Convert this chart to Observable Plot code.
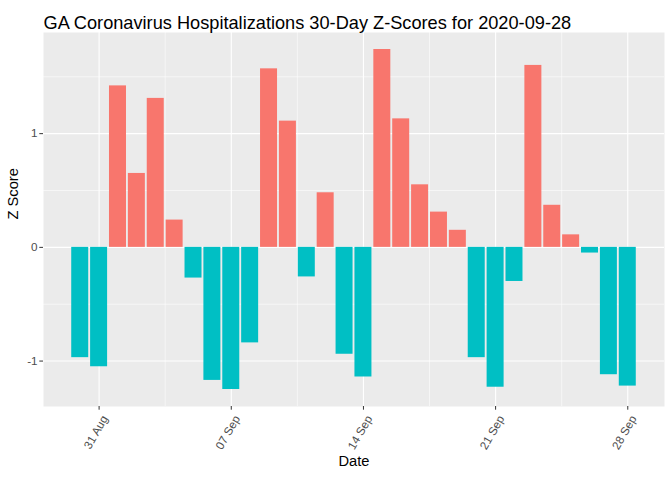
<!DOCTYPE html>
<html>
<head>
<meta charset="utf-8">
<script src="https://cdn.jsdelivr.net/npm/d3@7"></script>
<script src="https://cdn.jsdelivr.net/npm/@observablehq/plot@0.6"></script>
<style>
  html, body { margin: 0; padding: 0; background: #fff; }
  #chart svg { display: block; }
</style>
</head>
<body>
<div id="chart"></div>
<script>
const dates = [
  "2020-08-30","2020-08-31","2020-09-01","2020-09-02","2020-09-03","2020-09-04",
  "2020-09-05","2020-09-06","2020-09-07","2020-09-08","2020-09-09","2020-09-10",
  "2020-09-11","2020-09-12","2020-09-13","2020-09-14","2020-09-15","2020-09-16",
  "2020-09-17","2020-09-18","2020-09-19","2020-09-20","2020-09-21","2020-09-22",
  "2020-09-23","2020-09-24","2020-09-25","2020-09-26","2020-09-27","2020-09-28"
];
const zScores = [
  -0.97, -1.05, 1.42, 0.65, 1.31, 0.24,
  -0.27, -1.17, -1.25, -0.84, 1.57, 1.11,
  -0.26, 0.48, -0.94, -1.14, 1.74, 1.13,
  0.55, 0.31, 0.15, -0.97, -1.23, -0.30,
  1.60, 0.37, 0.11, -0.05, -1.12, -1.22
];
const xTickDates = ["2020-08-31","2020-09-07","2020-09-14","2020-09-21","2020-09-28"];
const yMajor = [-1, 0, 1];
const yMinor = [-0.5, 0.5, 1.5];
const titleText = "GA Coronavirus Hospitalizations 30-Day Z-Scores for 2020-09-28";
const xLabel = "Date";
const yLabel = "Z Score";

const DAY = 864e5;
const parse = s => new Date(s + "T00:00:00Z");
const data = dates.map((d, i) => ({date: parse(d), z: zScores[i], pos: zScores[i] > 0}));
const xTicks = xTickDates.map(parse);
const xMinor = xTicks.slice(0, -1).map(d => new Date(+d + 3.5 * DAY));

// ggplot-style expansion
const xMin = +data[0].date - 0.45 * DAY, xMax = +data[data.length - 1].date + 0.45 * DAY;
const xPad = (xMax - xMin) * 0.05;
const yMin = d3.min(zScores), yMax = d3.max(zScores);
const yPad = (yMax - yMin) * 0.05;

const font = "'Liberation Sans', Arial, sans-serif";

const chart = Plot.plot({
  width: 672,
  height: 480,
  marginLeft: 43,
  marginRight: 8,
  marginTop: 32,
  marginBottom: 74,
  style: {fontFamily: font, background: "#fff"},
  x: {type: "utc", domain: [new Date(xMin - xPad), new Date(xMax + xPad)]},
  y: {domain: [yMin - yPad, yMax + yPad]},
  color: {domain: [true, false], range: ["#F8766D", "#00BFC4"]},
  marks: [
    Plot.frame({fill: "#EBEBEB", stroke: null}),
    Plot.ruleY(yMinor, {stroke: "#fff", strokeWidth: 0.55}),
    Plot.ruleX(xMinor, {stroke: "#fff", strokeWidth: 0.55}),
    Plot.ruleY(yMajor, {stroke: "#fff", strokeWidth: 1.1}),
    Plot.ruleX(xTicks, {stroke: "#fff", strokeWidth: 1.1}),
    Plot.rect(data, {
      x1: d => new Date(+d.date - 0.45 * DAY),
      x2: d => new Date(+d.date + 0.45 * DAY),
      y1: 0,
      y2: "z",
      fill: "pos"
    }),
    Plot.axisY({
      ticks: yMajor, tickFormat: d => d < 0 ? "-" + Math.abs(d) : String(d),
      tickSize: 3.7, tickPadding: 2.2, label: null,
      fontSize: 11.7, color: "#4D4D4D", stroke: "#333333"
    }),
    Plot.axisX({
      ticks: xTicks, tickFormat: () => "",
      tickSize: 3.7, label: null, stroke: "#333333"
    }),
    Plot.axisX({
      ticks: xTicks, tickFormat: d3.utcFormat("%d %b"),
      tickSize: 0, tickPadding: 6, tickRotate: -60, label: null,
      dx: 6, dy: 4,
      fontSize: 11.7, color: "#4D4D4D"
    }),
    Plot.text([yLabel], {frameAnchor: "left", rotate: -90, dx: -30, fontSize: 14.7, fill: "#000"}),
    Plot.text([xLabel], {frameAnchor: "bottom", dy: 59, fontSize: 14.7, fill: "#000"}),
    Plot.text([titleText], {frameAnchor: "top-left", textAnchor: "start", dy: -16, fontSize: 18.2, fill: "#000"})
  ]
});
document.getElementById("chart").appendChild(chart);
</script>
</body>
</html>
